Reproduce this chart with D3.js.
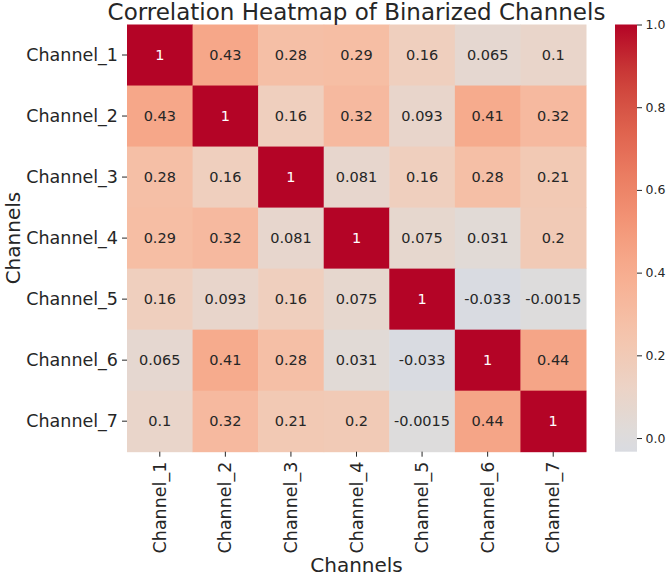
<!DOCTYPE html>
<html>
<head>
<meta charset="utf-8">
<script src="https://cdn.jsdelivr.net/npm/d3@7"></script>
<style>
  body { margin: 0; background: #fff; }
  svg text { font-family: "DejaVu Sans", sans-serif; fill: #262626; }
</style>
</head>
<body>
<div id="chart"></div>
<script>
// Channel names (rows and columns)
const channels = ["Channel_1", "Channel_2", "Channel_3", "Channel_4", "Channel_5", "Channel_6", "Channel_7"];

// Correlation matrix
const corr = [
  [1, 0.43, 0.28, 0.29, 0.16, 0.065, 0.1],
  [0.43, 1, 0.16, 0.32, 0.093, 0.41, 0.32],
  [0.28, 0.16, 1, 0.081, 0.16, 0.28, 0.21],
  [0.29, 0.32, 0.081, 1, 0.075, 0.031, 0.2],
  [0.16, 0.093, 0.16, 0.075, 1, -0.033, -0.0015],
  [0.065, 0.41, 0.28, 0.031, -0.033, 1, 0.44],
  [0.1, 0.32, 0.21, 0.2, -0.0015, 0.44, 1]
];

const colorbarTicks = [0, 0.2, 0.4, 0.6, 0.8, 1.0];

const W = 666, H = 576;
const box = { left: 127, right: 586, top: 24.5, bottom: 451.7 };
const cbar = { left: 615, right: 637 };

// coolwarm, centred at 0 (seaborn center=0 -> cmap spans -1..1)
const coolwarmT = [0.4375, 0.46875, 0.5, 0.5625, 0.625, 0.6875, 0.75, 0.8125, 0.875, 0.9375, 1.0];
const coolwarmC = ["#cdd9ec", "#d5dbe5", "#dddcdc", "#ecd3c5", "#f5c4ac", "#f7b194", "#f49a7b", "#ec7f63", "#de614d", "#cb3e38", "#b40426"];
const cmap = d3.scaleLinear().domain(coolwarmT).range(coolwarmC).interpolate(d3.interpolateRgb).clamp(true);
const color = v => cmap((v + 1) / 2);

const vmin = d3.min(corr.flat()), vmax = 1;

const svg = d3.select("#chart").append("svg")
  .attr("width", W).attr("height", H);

const x = d3.scaleBand().domain(channels).range([box.left, box.right]);
const y = d3.scaleBand().domain(channels).range([box.top, box.bottom]);

// cells
const cells = [];
corr.forEach((row, i) => row.forEach((v, j) => cells.push({ r: channels[i], c: channels[j], v })));

svg.append("g").selectAll("rect")
  .data(cells).enter().append("rect")
  .attr("x", d => x(d.c))
  .attr("y", d => y(d.r))
  .attr("width", x.bandwidth() + 0.5)
  .attr("height", y.bandwidth() + 0.5)
  .attr("fill", d => color(d.v));

const fmt = d3.format(".2~g");
function textColor(v) {
  const c = d3.rgb(color(v));
  const lum = [c.r, c.g, c.b].map(u => {
    u /= 255;
    return u <= 0.03928 ? u / 12.92 : Math.pow((u + 0.055) / 1.055, 2.4);
  });
  const L = 0.2126 * lum[0] + 0.7152 * lum[1] + 0.0722 * lum[2];
  return L > 0.408 ? "#262626" : "#ffffff";
}

svg.append("g").selectAll("text")
  .data(cells).enter().append("text")
  .attr("x", d => x(d.c) + x.bandwidth() / 2)
  .attr("y", d => y(d.r) + y.bandwidth() / 2)
  .attr("text-anchor", "middle")
  .attr("dominant-baseline", "central")
  .style("font-size", "14.5px")
  .style("fill", d => textColor(d.v))
  .text(d => fmt(d.v).replace("\u2212", "-"));

// axes
const yAxis = svg.append("g")
  .attr("transform", `translate(${box.left},0)`)
  .call(d3.axisLeft(y).tickSize(5).tickPadding(4));
yAxis.select(".domain").remove();
yAxis.selectAll("text").style("font-size", "17.5px");
yAxis.selectAll("line").attr("stroke", "#262626");

const xAxis = svg.append("g")
  .attr("transform", `translate(0,${box.bottom})`)
  .call(d3.axisBottom(x).tickSize(5).tickPadding(4));
xAxis.select(".domain").remove();
xAxis.selectAll("line").attr("stroke", "#262626");
xAxis.selectAll("text")
  .style("font-size", "17.5px")
  .attr("transform", "rotate(-90)")
  .attr("text-anchor", "end")
  .attr("x", -10)
  .attr("y", 0)
  .attr("dy", "0.35em");

// title and axis labels
svg.append("text")
  .attr("x", (box.left + box.right) / 2)
  .attr("y", 20)
  .attr("text-anchor", "middle")
  .style("font-size", "23px")
  .text("Correlation Heatmap of Binarized Channels");

svg.append("text")
  .attr("x", (box.left + box.right) / 2)
  .attr("y", 572)
  .attr("text-anchor", "middle")
  .style("font-size", "20px")
  .text("Channels");

svg.append("text")
  .attr("transform", `translate(19.5,${(box.top + box.bottom) / 2}) rotate(-90)`)
  .attr("text-anchor", "middle")
  .style("font-size", "20px")
  .text("Channels");

// colorbar
const cy = d3.scaleLinear().domain([vmin, vmax]).range([box.bottom, box.top]);
const defs = svg.append("defs");
const grad = defs.append("linearGradient")
  .attr("id", "cbgrad")
  .attr("x1", 0).attr("y1", 1).attr("x2", 0).attr("y2", 0);
d3.range(0, 1.0001, 0.05).forEach(f => {
  const v = vmin + f * (vmax - vmin);
  grad.append("stop").attr("offset", f).attr("stop-color", color(v));
});
svg.append("rect")
  .attr("x", cbar.left)
  .attr("y", box.top)
  .attr("width", cbar.right - cbar.left)
  .attr("height", box.bottom - box.top)
  .attr("fill", "url(#cbgrad)");

const cAxis = svg.append("g")
  .attr("transform", `translate(${cbar.right},0)`)
  .call(d3.axisRight(cy).tickValues(colorbarTicks).tickFormat(d3.format(".1f")).tickSize(5).tickPadding(3.5));
cAxis.select(".domain").remove();
cAxis.selectAll("line").attr("stroke", "#262626");
cAxis.selectAll("text").style("font-size", "12.5px");
</script>
</body>
</html>
